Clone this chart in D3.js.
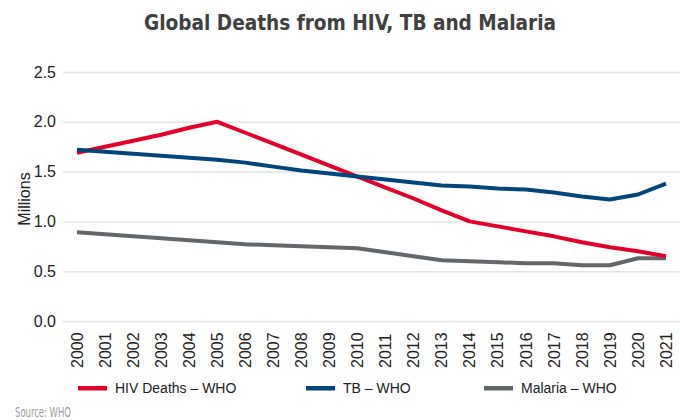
<!DOCTYPE html>
<html>
<head>
<meta charset="utf-8">
<script src="https://cdn.jsdelivr.net/npm/d3@7"></script>
<style>
  html, body { margin: 0; padding: 0; background: #fff; }
  svg { display: block; font-family: "Liberation Sans", Arial, sans-serif; }
</style>
</head>
<body>
<svg id="chart" width="680" height="420"></svg>
<script>
const years = [2000,2001,2002,2003,2004,2005,2006,2007,2008,2009,2010,2011,2012,2013,2014,2015,2016,2017,2018,2019,2020,2021];
const hivDeaths = [1.69,1.75,1.81,1.87,1.94,2.00,1.89,1.78,1.67,1.56,1.45,1.34,1.23,1.11,1.00,0.95,0.90,0.85,0.79,0.74,0.70,0.65];
const tbDeaths = [1.72,1.70,1.68,1.66,1.64,1.62,1.59,1.55,1.51,1.48,1.45,1.42,1.39,1.36,1.35,1.33,1.32,1.29,1.25,1.22,1.27,1.38];
const malariaDeaths = [0.89,0.87,0.85,0.83,0.81,0.79,0.77,0.76,0.75,0.74,0.73,0.69,0.65,0.61,0.60,0.59,0.58,0.58,0.56,0.56,0.63,0.63];
const seriesNames = ["HIV Deaths \u2013 WHO", "TB \u2013 WHO", "Malaria \u2013 WHO"];
const seriesColors = ["#e4002b", "#00457c", "#63666a"];
const yTicks = [0, 0.5, 1.0, 1.5, 2.0, 2.5];

const svg = d3.select("#chart");
const x = d3.scaleBand().domain(years).range([63, 680]).padding(0);
const y = d3.scaleLinear().domain([0, 2.5]).range([321, 72]);

// Title
svg.append("text")
  .attr("x", 350).attr("y", 30)
  .attr("text-anchor", "middle")
  .attr("font-family", "'Liberation Sans Narrow', 'DejaVu Sans Condensed', Arial, sans-serif")
  .attr("font-weight", "bold")
  .attr("font-size", 22)
  .attr("fill", "#404040")
  .attr("textLength", 412)
  .attr("lengthAdjust", "spacingAndGlyphs")
  .text("Global Deaths from HIV, TB and Malaria");

// Y grid + labels
const yAxis = d3.axisLeft(y).tickValues(yTicks).tickSize(-617).tickPadding(7).tickFormat(d3.format(".1f"));
const gy = svg.append("g").attr("transform", "translate(63,0)").call(yAxis);
gy.select(".domain").remove();
gy.selectAll(".tick line").attr("stroke", "#e3e3e3").attr("stroke-width", 1.5);
gy.selectAll(".tick text").attr("font-size", 16).attr("fill", "#222").attr("font-family", "'Liberation Sans', Arial, sans-serif");

// Y label
svg.append("text")
  .attr("transform", "translate(30,199) rotate(-90)")
  .attr("text-anchor", "middle")
  .attr("font-size", 16).attr("fill", "#222")
  .text("Millions");

// X axis labels
const xAxis = d3.axisBottom(x).tickSize(0).tickPadding(0);
const gx = svg.append("g").attr("transform", "translate(0,335)").call(xAxis);
gx.select(".domain").remove();
gx.selectAll(".tick text")
  .attr("font-size", 16).attr("fill", "#222")
  .attr("font-family", "'Liberation Sans', Arial, sans-serif")
  .attr("transform", "rotate(-90)")
  .attr("text-anchor", "end")
  .attr("x", 0).attr("y", 0).attr("dy", "0.36em");
gx.selectAll(".tick text").each(function() {
  const t = d3.select(this);
  t.attr("transform", "rotate(-90)").attr("x", -33).attr("text-anchor", "start");
});

// Lines
const allSeries = [hivDeaths, tbDeaths, malariaDeaths];
const line = d3.line()
  .x((d, i) => x(years[i]) + x.bandwidth() / 2)
  .y(d => y(d));
[2, 0, 1].forEach(k => {
  svg.append("path")
    .datum(allSeries[k])
    .attr("fill", "none")
    .attr("stroke", seriesColors[k])
    .attr("stroke-width", 4)
    .attr("stroke-linejoin", "round")
    .attr("d", line);
});

// Legend
const legendX = [78, 306, 484];
seriesNames.forEach((name, i) => {
  svg.append("rect")
    .attr("x", legendX[i]).attr("y", 386)
    .attr("width", 29).attr("height", 4.5)
    .attr("fill", seriesColors[i]);
  svg.append("text")
    .attr("x", legendX[i] + 37).attr("y", 393)
    .attr("font-size", 14).attr("fill", "#222")
    .text(name);
});

// Source
svg.append("text")
  .attr("x", 15).attr("y", 417)
  .attr("font-family", "'Liberation Sans Narrow', 'DejaVu Sans Condensed', Arial, sans-serif")
  .attr("font-size", 14).attr("fill", "#999")
  .attr("textLength", 56).attr("lengthAdjust", "spacingAndGlyphs")
  .text("Source: WHO");
</script>
</body>
</html>
